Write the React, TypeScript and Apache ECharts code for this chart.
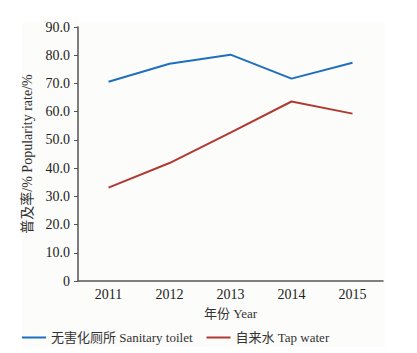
import React, { useEffect, useRef } from "react";
import * as echarts from "echarts";

const years = ["2011", "2012", "2013", "2014", "2015"];
const toiletRate = [70.6, 77.0, 80.2, 71.7, 77.3];
const tapWaterRate = [33.1, 41.8, 52.6, 63.6, 59.3];
const toiletName = "无害化厕所 Sanitary toilet";
const tapName = "自来水 Tap water";
const yAxisName = "普及率/% Popularity rate/%";
const xAxisName = "年份 Year";

const FONT = "'Liberation Serif', 'Noto Sans CJK SC', serif";

export default function App() {
  const ref = useRef<HTMLDivElement>(null);
  useEffect(() => {
    document.body.style.margin = "0";
    const chart = echarts.init(ref.current!, null, { renderer: "svg" });
    chart.setOption({
      animation: false,
      backgroundColor: "#ffffff",
      graphic: [
        {
          type: "rect",
          z: -10,
          shape: { x: 22, y: 22, width: 363, height: 325 },
          style: { fill: "#fcfcfa" },
          silent: true,
        },
      ],
      grid: { left: 78, right: 34, top: 27, bottom: 72 },
      legend: {
        left: 22,
        top: 331,
        padding: 0,
        icon: "rect",
        itemWidth: 24,
        itemHeight: 2,
        itemGap: 14,
        textStyle: { fontFamily: FONT, fontSize: 13, color: "#333" },
        data: [toiletName, tapName],
      },
      xAxis: {
        type: "category",
        data: years,
        boundaryGap: true,
        name: xAxisName,
        nameLocation: "middle",
        nameGap: 26,
        nameTextStyle: { fontFamily: FONT, fontSize: 13, color: "#333" },
        axisLine: { lineStyle: { color: "#555", width: 1.5 } },
        axisTick: { show: false },
        axisLabel: { fontFamily: FONT, fontSize: 14, color: "#222", margin: 6 },
      },
      yAxis: {
        type: "value",
        min: 0,
        max: 90,
        interval: 10,
        name: yAxisName,
        nameLocation: "middle",
        nameGap: 37,
        nameTextStyle: { fontFamily: FONT, fontSize: 14, color: "#333" },
        axisLine: { show: true, lineStyle: { color: "#555", width: 1.5 } },
        axisTick: { show: true, length: 4, lineStyle: { color: "#555" } },
        splitLine: { show: false },
        axisLabel: {
          fontFamily: FONT,
          fontSize: 14,
          color: "#222",
          margin: 8,
          formatter: (v: number) => (v === 0 ? "0" : v.toFixed(1)),
        },
      },
      series: [
        {
          name: toiletName,
          type: "line",
          data: toiletRate,
          symbol: "none",
          lineStyle: { color: "#1f6fbf", width: 2 },
          itemStyle: { color: "#1f6fbf" },
        },
        {
          name: tapName,
          type: "line",
          data: tapWaterRate,
          symbol: "none",
          lineStyle: { color: "#b03a32", width: 2 },
          itemStyle: { color: "#b03a32" },
        },
      ],
    });
    return () => chart.dispose();
  }, []);
  return (
    <div
      ref={ref}
      style={{ position: "absolute", left: 0, top: 0, width: 417, height: 353 }}
    />
  );
}
